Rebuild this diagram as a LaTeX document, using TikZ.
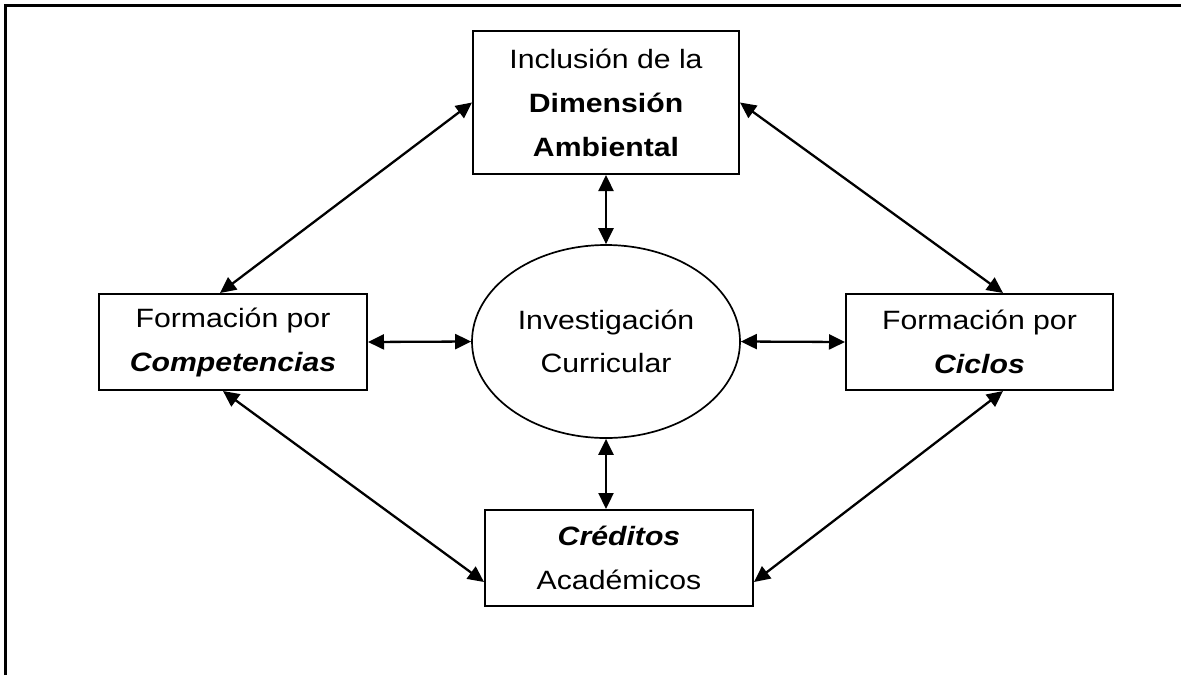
\documentclass[tikz,border=0pt]{standalone}
\usepackage{fontspec}
\setmainfont[FakeStretch=1.14]{Liberation Sans}
\usetikzlibrary{shapes.geometric,arrows.meta}
\tikzset{
  boxnode/.style={draw, line width=2pt, rectangle, inner sep=0pt, align=center,
    font=\fontsize{26.5}{44}\selectfont},
  ellnode/.style={draw, line width=1.7pt, ellipse, inner sep=0pt, align=center,
    minimum width=268pt, minimum height=193pt, font=\fontsize{26.5}{43}\selectfont},
  link/.style={line width=2.3pt, {Triangle[length=16pt,width=15pt]}-{Triangle[length=16pt,width=15pt]}},
  frame/.style={line width=2.4pt}
}
\begin{document}
\begin{tikzpicture}[x=1pt,y=-1pt]
\useasboundingbox (0,0) rectangle (1182,675);
\draw[frame] (5.5,675) -- (5.5,5.5) -- (1181,5.5);

\node[boxnode, minimum width=266pt, minimum height=143pt] (top) at (606,102.5)
  {Inclusión de la\\\textbf{Dimensión}\\\textbf{Ambiental}};
\node[boxnode, minimum width=268pt, minimum height=96pt] (lft) at (233,342)
  {Formación por\\\textbf{\itshape Competencias}};
\node[boxnode, minimum width=267pt, minimum height=96pt] (rgt) at (979.5,342)
  {Formación por\\\textbf{\itshape Ciclos}};
\node[boxnode, minimum width=268pt, minimum height=96pt] (bot) at (619,558)
  {\textbf{\itshape Créditos}\\Académicos};
\node[ellnode] (ell) at (606,341.5) {Investigación\\Curricular};

\draw[link] (top.south) -- (ell.north);
\draw[link] (ell.south) -- (ell.south |- bot.north);
\draw[link] (lft.east) -- (ell.west);
\draw[link] (ell.east) -- (rgt.west);
\draw[link] (top.west) -- ([xshift=-13pt]lft.north);
\draw[link] (top.east) -- ([xshift=23.5pt]rgt.north);
\draw[link] ([xshift=-10pt]lft.south) -- ([yshift=-24pt]bot.west);
\draw[link] ([xshift=23.5pt]rgt.south) -- ([yshift=-24pt]bot.east);
\end{tikzpicture}
\end{document}
